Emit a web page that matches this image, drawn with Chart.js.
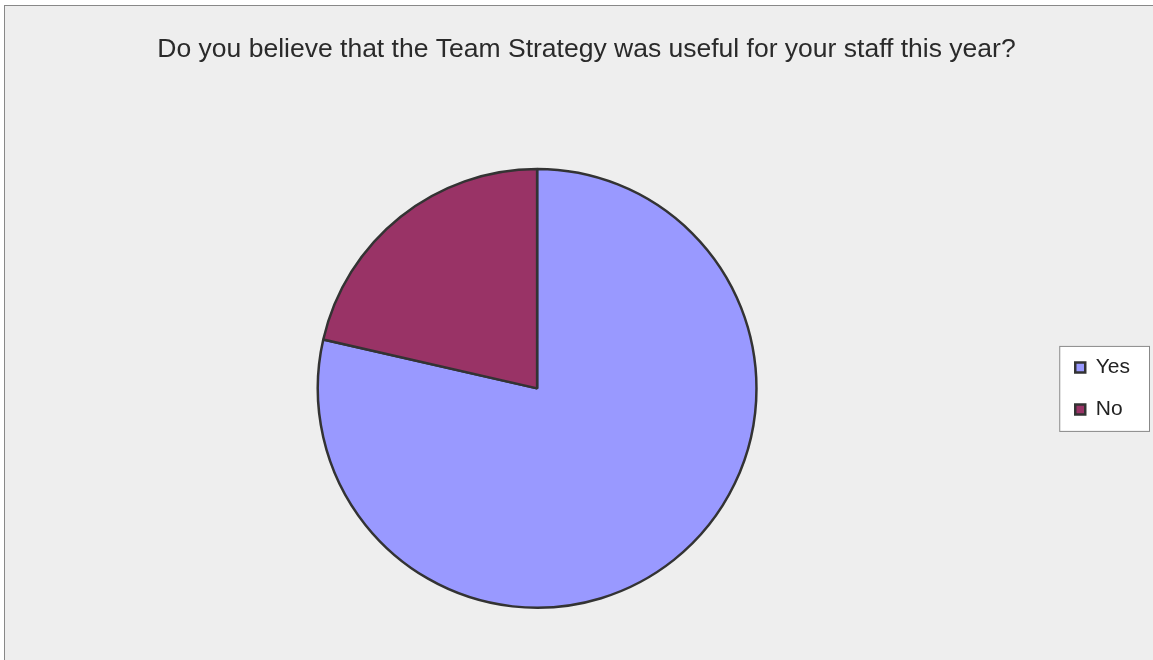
<!DOCTYPE html>
<html>
<head>
<meta charset="utf-8">
<script src="https://cdn.jsdelivr.net/npm/chart.js@4.4.0/dist/chart.umd.min.js"></script>
<style>
  html, body { margin: 0; padding: 0; background: #fff; overflow: hidden; }
  #frame {
    position: absolute; left: 4px; top: 5px;
    width: 1178px; height: 660px;
    border: 1px solid #888; background: #eeeeee;
  }
  #wrap { position: absolute; left: 0; top: 0; width: 1178px; height: 655px; }
</style>
</head>
<body>
<div id="frame"><div id="wrap"><canvas id="pieChart"></canvas></div></div>
<script>
const chartTitle = 'Do you believe that the Team Strategy was useful for your staff this year?';
const answers = ['Yes', 'No'];
const responses = [11, 3];
const sliceColors = ['#9999ff', '#993366'];

// white box behind the legend
const legendBox = {
    id: 'legendBox',
    beforeDraw(chart) {
        const lg = chart.legend;
        if (!lg || !lg.legendHitBoxes.length) return;
        const boxes = lg.legendHitBoxes;
        const left = boxes[0].left - 16;
        const top = boxes[0].top - 11;
        const last = boxes[boxes.length - 1];
        const right = Math.max(...boxes.map(b => b.left + b.width)) + 19;
        const bottom = last.top + last.height + 11;
        const ctx = chart.ctx;
        ctx.save();
        ctx.fillStyle = '#ffffff';
        ctx.strokeStyle = '#888888';
        ctx.lineWidth = 1;
        ctx.fillRect(left, top, right - left, bottom - top);
        ctx.strokeRect(left + 0.5, top + 0.5, right - left, bottom - top);
        ctx.restore();
    }
};

// empty gap between the pie area and the legend
const legendGap = {
    id: 'legendGap',
    beforeInit(chart) {
        Chart.layouts.addBox(chart, {
            position: 'right',
            weight: 0,
            fullSize: false,
            options: {},
            update(w, h) { this.width = 13; this.height = h; },
            draw() {},
            isHorizontal() { return false; }
        });
    }
};

new Chart(document.getElementById('pieChart'), {
    type: 'pie',
    data: {
        labels: answers,
        datasets: [{
            data: responses,
            backgroundColor: sliceColors,
            borderColor: '#333333',
            borderWidth: 2.5
        }]
    },
    options: {
        responsive: true,
        maintainAspectRatio: false,
        animation: false,
        layout: { padding: { top: 0, bottom: 52, left: 28, right: 43 } },
        plugins: {
            title: {
                display: true,
                text: chartTitle,
                color: '#2a2a2a',
                font: { family: 'Liberation Sans, Arial, sans-serif', size: 26.5, weight: 'normal' },
                padding: { top: 28, bottom: 102 }
            },
            legend: {
                position: 'right',
                fullSize: false,
                labels: {
                    boxWidth: 10,
                    boxHeight: 10,
                    padding: 21,
                    color: '#222222',
                    font: { family: 'Liberation Sans, Arial, sans-serif', size: 21 }
                }
            },
            tooltip: { enabled: false }
        }
    },
    plugins: [legendBox, legendGap]
});
</script>
</body>
</html>
